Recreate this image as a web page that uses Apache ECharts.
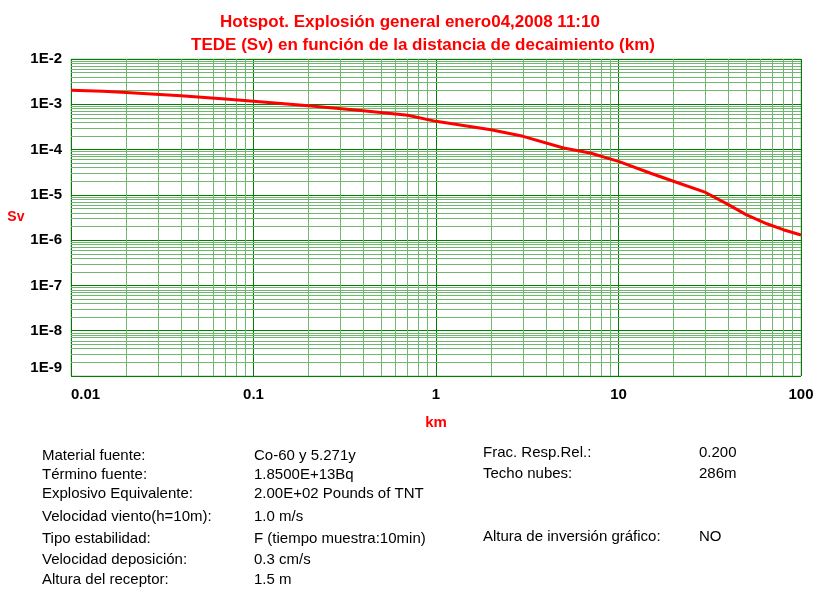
<!DOCTYPE html>
<html>
<head>
<meta charset="utf-8">
<script src="https://cdn.jsdelivr.net/npm/echarts@6/dist/echarts.min.js"></script>
<style>html,body{margin:0;padding:0;background:#fff;}#c{width:822px;height:589px;}</style>
</head>
<body>
<div id="c"></div>
<script>
const titleLines = ['Hotspot. Explosión general enero04,2008 11:10', 'TEDE (Sv) en función de la distancia de decaimiento (km)'];
const distancesKm = [0.01, 0.015, 0.02, 0.04, 0.07, 0.1, 0.2, 0.4, 0.7, 1, 2, 3, 5, 7, 10, 15, 20, 30, 40, 50, 65, 80, 100];
const tedeSv = [2.03e-3, 1.93e-3, 1.83e-3, 1.55e-3, 1.31e-3, 1.17e-3, 9.3e-4, 7.2e-4, 5.7e-4, 4.2e-4, 2.75e-4, 1.96e-4, 1.08e-4, 8.4e-5, 5.5e-5, 3.0e-5, 2.0e-5, 1.13e-5, 6.1e-6, 3.66e-6, 2.3e-6, 1.7e-6, 1.3e-6];
const xTickValues = [0.01, 0.1, 1, 10, 100];
const xTickLabels = ['0.01', '0.1', '1', '10', '100'];
const yTickValues = [1e-2, 1e-3, 1e-4, 1e-5, 1e-6, 1e-7, 1e-8, 1e-9];
const yTickLabels = ['1E-2', '1E-3', '1E-4', '1E-5', '1E-6', '1E-7', '1E-8', '1E-9'];
const infoLabels = ['Material fuente:', 'Término fuente:', 'Explosivo Equivalente:', 'Velocidad viento(h=10m):', 'Tipo estabilidad:', 'Velocidad deposición:', 'Altura del receptor:'];
const infoValues = ['Co-60 y 5.271y', '1.8500E+13Bq', '2.00E+02 Pounds of TNT', '1.0 m/s', 'F (tiempo muestra:10min)', '0.3 cm/s', '1.5 m'];
const sideLabels = ['Frac. Resp.Rel.:', 'Techo nubes:', 'Altura de inversión gráfico:'];
const sideValues = ['0.200', '286m', 'NO'];

const X_MIN = 0.01, X_MAX = 100, Y_MIN = 1e-9, Y_MAX = 1e-2;
const MINOR_COLOR = '#70b870';

function labelFor(values, labels, v) {
  for (let i = 0; i < values.length; i++) {
    if (Math.abs(Math.log10(v) - Math.log10(values[i])) < 1e-6) return labels[i];
  }
  return '';
}

// minor log grid lines (2..9 in each decade), placed through the axes' own scales
const minorLines = [];
const ls = { color: MINOR_COLOR, width: 1, type: 'solid', opacity: 1 };
for (let e = -2; e < 2; e++) for (let k = 2; k <= 9; k++) {
  const v = k * Math.pow(10, e);
  minorLines.push([{ coord: [v, Y_MIN], lineStyle: ls }, { coord: [v, Y_MAX] }]);
}
for (let e = -9; e < -2; e++) for (let k = 2; k <= 9; k++) {
  const v = k * Math.pow(10, e);
  minorLines.push([{ coord: [X_MIN, v], lineStyle: ls }, { coord: [X_MAX, v] }]);
}

const FONT = 'Liberation Sans, Arial, sans-serif';
const rowY = [457, 476, 495, 518, 540, 561, 581];
const sideY = [454, 475, 538];
const graphics = [];
const txt = (x, y, t) => graphics.push({ type: 'text', left: x, top: y - 9, style: { text: t, font: '15px ' + FONT, fill: '#000' } });
infoLabels.forEach((t, i) => txt(42, rowY[i], t));
infoValues.forEach((t, i) => txt(254, rowY[i], t));
sideLabels.forEach((t, i) => txt(483, sideY[i], t));
sideValues.forEach((t, i) => txt(699, sideY[i], t));

const chart = echarts.init(document.getElementById('c'), null, { renderer: 'canvas' });
chart.setOption({
  animation: false,
  backgroundColor: '#fff',
  color: ['#ff0000'],
  title: [
    { text: titleLines[0], left: 405, top: 9, textAlign: 'center', textStyle: { color: '#ff0000', fontWeight: 'bold', fontSize: 17, fontFamily: FONT } },
    { text: titleLines[1], left: 418, top: 32, textAlign: 'center', textStyle: { color: '#ff0000', fontWeight: 'bold', fontSize: 17, fontFamily: FONT } }
  ],
  grid: { left: 71, right: 21, top: 59, bottom: 213, show: true, borderColor: '#bdbdbd', borderWidth: 1 },
  xAxis: {
    type: 'log', logBase: 10, min: X_MIN, max: X_MAX,
    name: 'km', nameLocation: 'middle', nameGap: 39,
    nameTextStyle: { color: '#ff0000', fontWeight: 'bold', fontSize: 15, fontFamily: FONT },
    axisLine: { show: false }, axisTick: { show: false },
    axisLabel: {
      margin: 11, color: '#000', fontWeight: 'bold', fontSize: 15, fontFamily: FONT,
      alignMinLabel: 'left', alignMaxLabel: 'center',
      formatter: v => labelFor(xTickValues, xTickLabels, v)
    },
    splitLine: { show: true, lineStyle: { color: '#008000', width: 1 } }
  },
  yAxis: {
    type: 'log', logBase: 10, min: Y_MIN, max: Y_MAX,
    name: 'Sv', nameLocation: 'middle', nameGap: 40, nameRotate: 0,
    nameTextStyle: { color: '#ff0000', fontWeight: 'bold', fontSize: 14, fontFamily: FONT, padding: [8, 0, 0, 0] },
    axisLine: { show: false }, axisTick: { show: false },
    axisLabel: {
      margin: 9, color: '#000', fontWeight: 'bold', fontSize: 15, fontFamily: FONT,
      formatter: v => {
        const t = labelFor(yTickValues, yTickLabels, v);
        return t === '1E-9' ? '{low|' + t + '}' : t;
      },
      rich: { low: { color: '#000', fontWeight: 'bold', fontSize: 15, fontFamily: FONT, padding: [0, 0, 16, 0] } }
    },
    splitLine: { show: true, lineStyle: { color: '#008000', width: 1 } }
  },
  series: [{
    type: 'line',
    data: distancesKm.map((d, i) => [d, tedeSv[i]]),
    showSymbol: false,
    smooth: false,
    itemStyle: { color: '#ff0000' },
    lineStyle: { color: '#ff0000', width: 3 },
    z: 5,
    markLine: {
      silent: true, symbol: 'none', label: { show: false },
      itemStyle: { color: MINOR_COLOR },
      lineStyle: { color: MINOR_COLOR, width: 1, type: 'solid' },
      emphasis: { disabled: true },
      data: minorLines
    }
  }],
  graphic: graphics
});
</script>
</body>
</html>
